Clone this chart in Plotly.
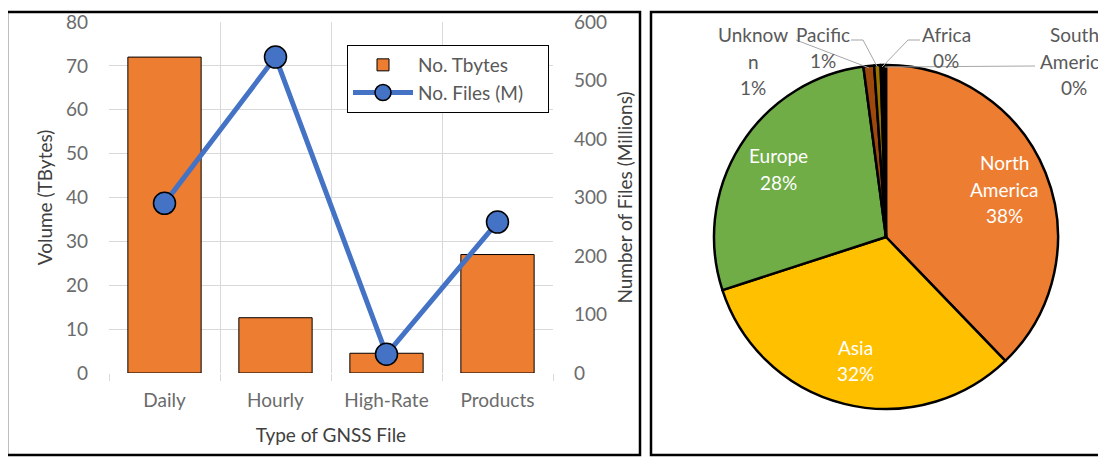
import math
import plotly.graph_objects as go

# ---------------- data ----------------
categories = ["Daily", "Hourly", "High-Rate", "Products"]
tbytes = [72, 12.6, 4.5, 27]          # No. Tbytes (left axis)
files_m = [290, 540, 32, 258]          # No. Files (M) (right axis)
vol_ticks = [0, 10, 20, 30, 40, 50, 60, 70, 80]
file_ticks = [0, 100, 200, 300, 400, 500, 600]

regions = ["North America", "Asia", "Europe", "Unknown", "Pacific", "Africa", "South America"]
region_share = [37.8, 32.2, 27.9, 1.0, 0.6, 0.25, 0.25]
region_label_lines = [["North", "America"], ["Asia"], ["Europe"], ["Unknow", "n"],
                      ["Pacific"], ["Africa"], ["South", "America"]]
region_colors = ["#ED7D31", "#FFC000", "#70AD47", "#9E480E", "#997300", "#1F1F1F", "#000000"]

# ---------------- layout helpers ----------------
W, H = 1106, 458
OFF = 8  # page body margin
def px(x):
    return (x - OFF) / W
def py(y):
    return 1 - (y - OFF) / H

FONT = "Lato"
FS = 19
TICK_COLOR = "#6b6b6b"
TITLE_COLOR = "#404040"
GRID = "#d9d9d9"

fig = go.Figure()

# bars
fig.add_trace(go.Bar(
    x=list(range(len(categories))), y=tbytes, name="No. Tbytes",
    marker=dict(color="#ED7D31", line=dict(color="black", width=1)),
    width=0.66, xaxis="x", yaxis="y",
))
# line
fig.add_trace(go.Scatter(
    x=list(range(len(categories))), y=files_m, name="No. Files (M)\u00a0\u00a0\u00a0\u00a0",
    mode="lines+markers",
    line=dict(color="#4472C4", width=5),
    marker=dict(color="#4472C4", size=22, line=dict(color="black", width=1.5)),
    xaxis="x", yaxis="y2",
))

# pie geometry (pixels)
CX, CY, R = 886, 237, 172
fig.add_trace(go.Pie(
    labels=regions, values=region_share, sort=False, direction="clockwise",
    rotation=0, textinfo="none", hoverinfo="label+percent",
    marker=dict(colors=region_colors, line=dict(color="black", width=2.5)),
    domain=dict(x=[px(CX - R), px(CX + R)], y=[py(CY + R), py(CY - R)]),
    showlegend=False,
))

annotations = []
shapes = []

# pie labels
total = sum(region_share)
cum = 0.0
slice_mid_angles = []
for v in region_share:
    mid = (cum + v / 2) / total * 2 * math.pi
    slice_mid_angles.append(mid)
    cum += v
pct = [f"{round(v / total * 100)}%" for v in region_share]

def add_lines(lines, cx, cy_center, color, size=FS, spacing=26.5):
    n = len(lines)
    for i, t in enumerate(lines):
        yy = cy_center + (i - (n - 1) / 2) * spacing
        annotations.append(dict(
            text=t, x=px(cx), y=py(yy), xref="paper", yref="paper",
            showarrow=False, xanchor="center", yanchor="middle",
            font=dict(family=FONT, size=size, color=color),
        ))

# big slices: labels inside along bisector
for i in range(3):
    a = slice_mid_angles[i]
    lx = CX + 0.74 * R * math.sin(a)
    ly = CY - 0.74 * R * math.cos(a)
    add_lines(region_label_lines[i] + [pct[i]], lx, ly, "white")

# small slices: labels outside with leader lines
small_label_pos = {3: (753, 61), 4: (823, 47.5), 5: (946, 47.5), 6: (1074, 61)}
leader_start = {3: [(796, 40)], 4: [(851, 40), (863, 40)], 5: [(920, 40), (908, 40)],
                6: [(1035, 66)]}
for i, (lx, ly) in small_label_pos.items():
    add_lines(region_label_lines[i] + [pct[i]], lx, ly, "#595959")
    a = slice_mid_angles[i]
    ex = CX + (R - 2) * math.sin(a)
    ey = CY - (R - 2) * math.cos(a)
    pts = leader_start[i] + [(ex, ey)]
    path = "M " + " L ".join(f"{px(x):.5f},{py(y):.5f}" for x, y in pts)
    shapes.append(dict(type="path", path=path, xref="paper", yref="paper",
                       line=dict(color="#a6a6a6", width=1)))

# panel frames
shapes.append(dict(type="rect", xref="paper", yref="paper",
                   x0=px(7), x1=px(640), y0=py(455), y1=py(12),
                   line=dict(color="black", width=2.5), layer="above"))
shapes.append(dict(type="rect", xref="paper", yref="paper",
                   x0=px(651), x1=px(1125), y0=py(455), y1=py(12),
                   line=dict(color="black", width=2.5), layer="above"))

boundaries = [i - 0.5 for i in range(len(categories) + 1)]

fig.update_layout(
    width=W, height=H,
    margin=dict(l=0, r=0, t=0, b=0, autoexpand=False),
    paper_bgcolor="white", plot_bgcolor="white",
    font=dict(family=FONT, size=FS, color=TICK_COLOR),
    xaxis=dict(
        domain=[px(109), px(553)], range=[-0.5, len(categories) - 0.5],
        tickvals=list(range(len(categories))), ticktext=categories,
        showgrid=False, zeroline=False, showline=False, ticks="",
        automargin=False,
        tickfont=dict(family=FONT, size=FS, color=TICK_COLOR),
        minor=dict(tickvals=boundaries, showgrid=True, gridcolor=GRID, gridwidth=1,
                   ticks="outside", ticklen=7, tickcolor=GRID),
        ticklabelstandoff=14,
        title=dict(text="Type of GNSS File", standoff=18,
                   font=dict(family=FONT, size=FS, color=TITLE_COLOR)),
    ),
    yaxis=dict(
        domain=[py(373), py(22)], range=[0, 80], tickvals=vol_ticks,
        showgrid=True, gridcolor=GRID, gridwidth=1, zeroline=False, showline=False,
        automargin=False,
        tickfont=dict(family=FONT, size=FS, color=TICK_COLOR),
        ticklabelstandoff=20,
        title=dict(text="Volume (TBytes)", standoff=8,
                   font=dict(family=FONT, size=FS, color=TITLE_COLOR)),
    ),
    yaxis2=dict(
        overlaying="y", side="right", anchor="x", range=[0, 600], tickvals=file_ticks,
        showgrid=False, zeroline=False, showline=False,
        automargin=False,
        tickfont=dict(family=FONT, size=FS, color=TICK_COLOR),
        ticklabelstandoff=20,
        title=dict(text="Number of Files (Millions)", standoff=12,
                   font=dict(family=FONT, size=FS, color=TITLE_COLOR)),
    ),
    legend=dict(
        x=px(347), y=py(45), xanchor="left", yanchor="top",
        bgcolor="white", bordercolor="black", borderwidth=1,
        font=dict(family=FONT, size=FS, color="#595959"),
        itemwidth=60, tracegroupgap=0,
    ),
    annotations=annotations,
    shapes=shapes,
)

fig.write_html("out.html")
